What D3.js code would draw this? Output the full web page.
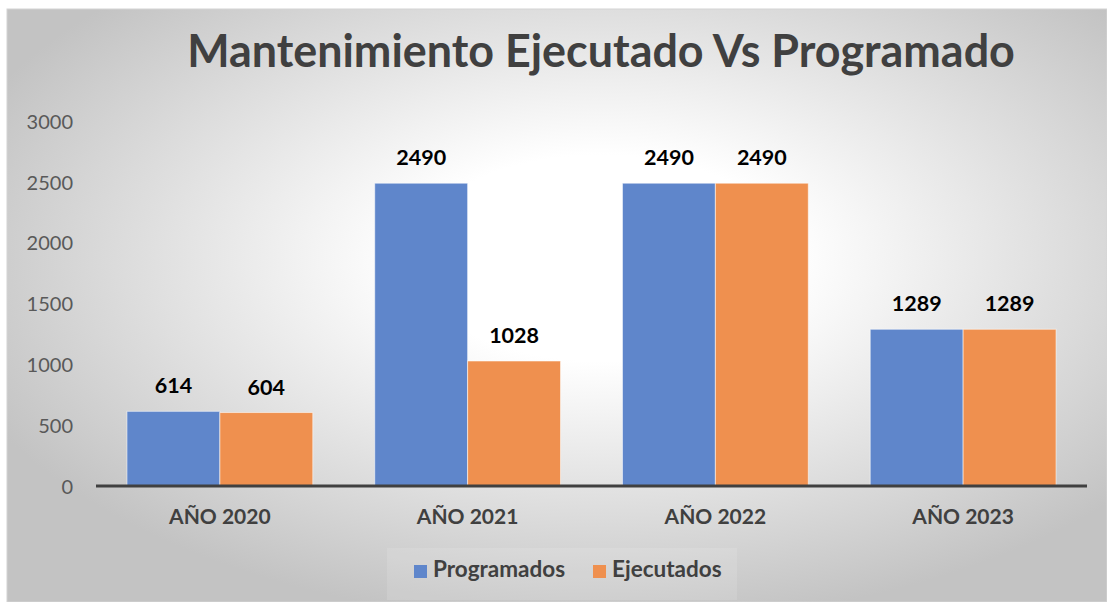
<!DOCTYPE html>
<html>
<head>
<meta charset="utf-8">
<script src="https://cdn.jsdelivr.net/npm/d3@7"></script>
<style>
  html, body { margin: 0; padding: 0; background: #ffffff; }
  svg { display: block; font-family: Lato, "Open Sans", sans-serif; }
</style>
</head>
<body>
<svg id="chart" width="1107" height="602"></svg>
<script>
const categories = ["AÑO 2020", "AÑO 2021", "AÑO 2022", "AÑO 2023"];
const seriesNames = ["Programados", "Ejecutados"];
const programados = [614, 2490, 2490, 1289];
const ejecutados = [604, 1028, 2490, 1289];
const yTicks = [0, 500, 1000, 1500, 2000, 2500, 3000];
const colors = ["#5f86cb", "#ef904f"];
const title = "Mantenimiento Ejecutado Vs Programado";

const svg = d3.select("#chart");
const W = 1107, H = 602;

// background
const defs = svg.append("defs");
const grad = defs.append("radialGradient").attr("id", "bg")
  .attr("cx", 0.54).attr("cy", 0.42).attr("r", 0.62)
  .attr("fx", 0.54).attr("fy", 0.42);
grad.append("stop").attr("offset", "0%").attr("stop-color", "#ffffff");
grad.append("stop").attr("offset", "28%").attr("stop-color", "#ffffff");
grad.append("stop").attr("offset", "100%").attr("stop-color", "#c3c3c3");

svg.append("rect").attr("x", 7).attr("y", 9).attr("width", W - 7).attr("height", H - 9)
  .attr("fill", "url(#bg)").attr("stroke", "#d4d4d4").attr("stroke-width", 1);

// scales
const x0 = d3.scaleBand().domain(categories).range([96, 1087]).paddingInner(0.25).paddingOuter(0.125);
const x1 = d3.scaleBand().domain(seriesNames).range([0, x0.bandwidth()]).padding(0);
const y = d3.scaleLinear().domain([0, 3000]).range([486, 121.2]);

const data = categories.map((c, i) => ({
  cat: c,
  vals: [
    { name: seriesNames[0], v: programados[i], color: colors[0] },
    { name: seriesNames[1], v: ejecutados[i], color: colors[1] }
  ]
}));

// y axis labels (no line)
const yAxis = d3.axisLeft(y).tickValues(yTicks).tickSize(0).tickPadding(0).tickFormat(d3.format("d"));
const yg = svg.append("g").attr("transform", "translate(73,0)").call(yAxis);
yg.select(".domain").remove();
yg.selectAll("text").attr("fill", "#595959").style("font-size", "20px")
  .style("font-family", "Lato, 'Open Sans', sans-serif").attr("dy", "0.35em");

// bars
const groups = svg.append("g").selectAll("g").data(data).join("g")
  .attr("transform", d => `translate(${x0(d.cat)},0)`);
groups.selectAll("rect").data(d => d.vals).join("rect")
  .attr("x", d => x1(d.name))
  .attr("width", x1.bandwidth())
  .attr("y", d => y(d.v))
  .attr("height", d => y(0) - y(d.v))
  .attr("fill", d => d.color)
  .attr("stroke", "#ffffff").attr("stroke-opacity", 0.55).attr("stroke-width", 1);

// data labels
groups.selectAll("text").data(d => d.vals).join("text")
  .attr("x", d => x1(d.name) + x1.bandwidth() / 2)
  .attr("y", d => y(d.v) - 18)
  .attr("text-anchor", "middle")
  .attr("fill", "#000000")
  .style("font-size", "21.5px").style("font-weight", "bold")
  .text(d => d.v);

// x axis
const xAxis = d3.axisBottom(x0).tickSize(0).tickPadding(0);
const xg = svg.append("g").attr("transform", "translate(0,486)").call(xAxis);
xg.select(".domain").remove();
xg.selectAll("text").attr("fill", "#404040").attr("dy", 0).attr("y", 38)
  .style("font-size", "21px").style("font-weight", "bold")
  .style("font-family", "Lato, 'Open Sans', sans-serif");
svg.append("line").attr("x1", x0.range()[0]).attr("x2", x0.range()[1])
  .attr("y1", y(0)).attr("y2", y(0))
  .attr("stroke", "#404040").attr("stroke-width", 3);

// title
const t = svg.append("text").attr("x", 601).attr("y", 67).attr("text-anchor", "middle")
  .attr("fill", "#404040").style("font-weight", "bold").style("font-size", "40px").text(title);
const tw = t.node().getComputedTextLength();
t.style("font-size", (40 * 828 / tw) + "px");

// legend
svg.append("rect").attr("x", 387).attr("y", 548).attr("width", 350).attr("height", 52)
  .attr("fill", "#ffffff").attr("opacity", 0.12);
const legendX = [414, 593];
const lg = svg.append("g").selectAll("g").data(seriesNames).join("g")
  .attr("transform", (d, i) => `translate(${legendX[i]},0)`);
lg.append("rect").attr("x", 0).attr("y", 565).attr("width", 13).attr("height", 13)
  .attr("fill", (d, i) => colors[i]);
lg.append("text").attr("x", 19).attr("y", 577).attr("fill", "#404040")
  .style("font-size", "22.5px").style("font-weight", "bold").text(d => d);
</script>
</body>
</html>
